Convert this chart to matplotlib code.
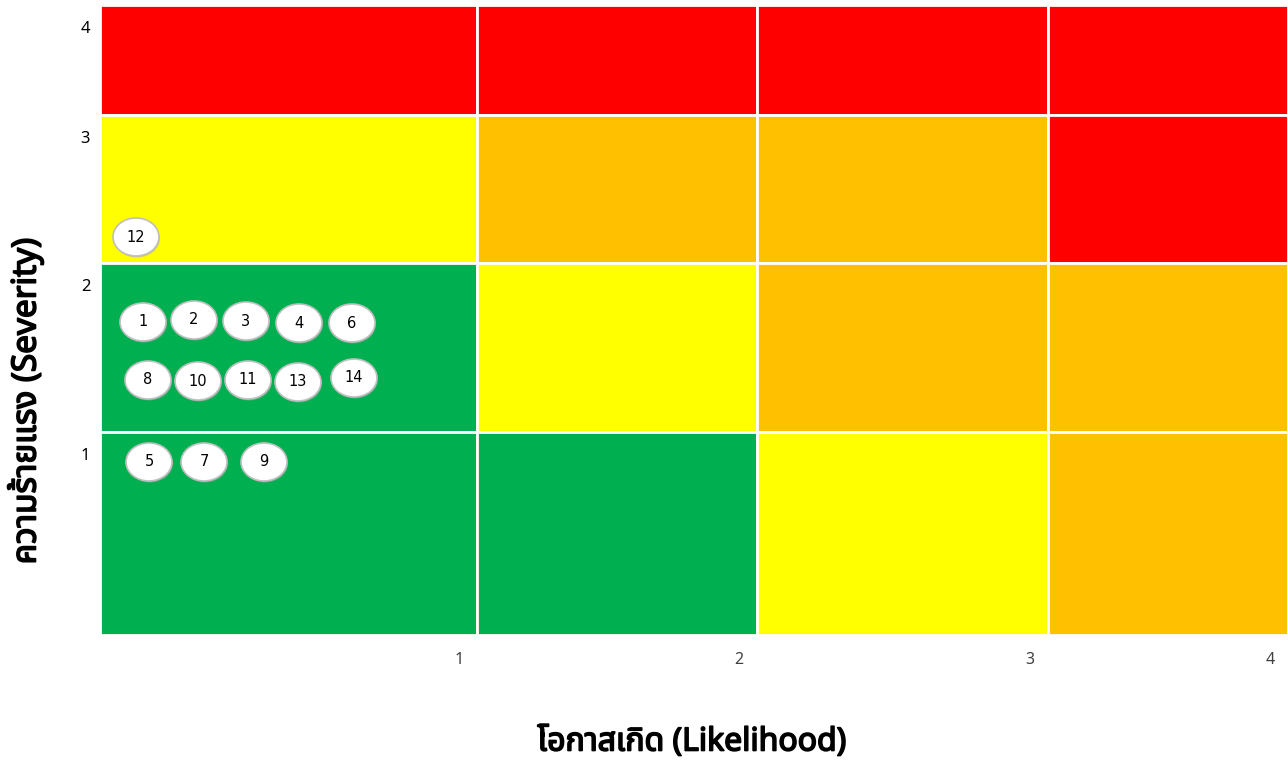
import matplotlib
matplotlib.use('Agg')
import matplotlib.pyplot as plt
import matplotlib.patheffects as pe
from matplotlib.patches import Rectangle, Ellipse

plt.rcParams['font.family'] = ['Noto Sans Thai', 'Noto Sans', 'DejaVu Sans']

# risk level of each cell, rows from severity 4 (top) down to 1
cell_levels = [
    ['high', 'high', 'high', 'high'],
    ['medium', 'significant', 'significant', 'high'],
    ['low', 'medium', 'significant', 'significant'],
    ['low', 'low', 'medium', 'significant'],
]
level_colors = {'high': '#FF0000', 'significant': '#FFC000',
                'medium': '#FFFF00', 'low': '#00B050'}

likelihood_labels = ['1', '2', '3', '4']
severity_labels = ['4', '3', '2', '1']

# risks: id, likelihood, severity, position inside the cell (px from cell's top-left)
risk_ids = ['12', '1', '2', '3', '4', '6', '8', '10', '11', '13', '14', '5', '7', '9']
risk_likelihood = [1, 1, 1, 1, 1, 1, 1, 1, 1, 1, 1, 1, 1, 1]
risk_severity = [3, 2, 2, 2, 2, 2, 2, 2, 2, 2, 2, 1, 1, 1]
risk_dx = [36, 43, 94, 146, 199, 252, 48, 98, 148, 198, 254, 49, 104, 164]
risk_dy = [122, 59, 57, 58, 60, 60, 117, 118, 117, 119, 115, 30, 30, 30]

# layout of the unequal grid (px inside the axes)
col_edges = [0, 377, 657, 948, 1188]
row_edges = [0, 110, 258, 427, 630]

fig = plt.figure(figsize=(12.88, 7.6), dpi=100)
ax = fig.add_axes([100 / 1288, 125 / 760, 1188 / 1288, 630 / 760])
ax.set_xlim(0, 1188)
ax.set_ylim(630, 0)

for r, row in enumerate(cell_levels):
    for c, level in enumerate(row):
        ax.add_patch(Rectangle((col_edges[c], row_edges[r]),
                               col_edges[c + 1] - col_edges[c],
                               row_edges[r + 1] - row_edges[r],
                               facecolor=level_colors[level], edgecolor='white', lw=2))

for rid, lk, sv, dx, dy in zip(risk_ids, risk_likelihood, risk_severity, risk_dx, risk_dy):
    x0 = col_edges[lk - 1]
    y0 = row_edges[4 - sv]
    ax.add_patch(Ellipse((x0 + dx + 1, y0 + dy + 1.5), 46, 38, facecolor='#A6A6A6',
                         edgecolor='none', alpha=0.5, zorder=3))
    ax.add_patch(Ellipse((x0 + dx, y0 + dy), 46, 38, facecolor='white',
                         edgecolor='#BFBFBF', lw=1.2, zorder=4))
    ax.text(x0 + dx, y0 + dy, rid, ha='center', va='center', fontsize=10.5,
            color='black', zorder=5, family='DejaVu Sans')

ax.set_xticks([e - 18 for e in col_edges[1:]])
ax.set_xticklabels(likelihood_labels, fontsize=11.5, color='#404040')
ax.set_yticks([e + 22 for e in row_edges[:-1]])
ax.set_yticklabels(severity_labels, fontsize=12, color='black')
ax.tick_params(length=0, pad=12)
ax.tick_params(axis='y', pad=7)
for s in ax.spines.values():
    s.set_visible(False)

bold = [pe.withStroke(linewidth=1.2, foreground='black')]
fig.text(692 / 1288, 1 - 742 / 760, 'โอกาสเกิด (Likelihood)', ha='center', va='center',
         fontsize=23, path_effects=bold)
fig.text(25 / 1288, 1 - 401 / 760, 'ความร้ายแรง (Severity)', ha='center', va='center',
         fontsize=24, rotation=90, path_effects=bold)

fig.savefig('out.png', dpi=100, facecolor='white')
